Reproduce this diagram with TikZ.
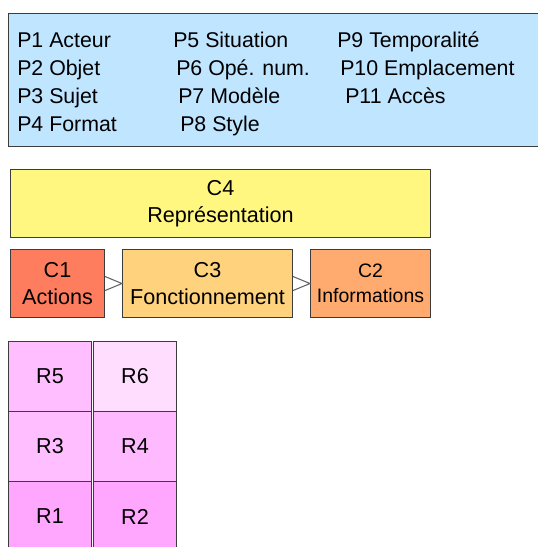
\documentclass[tikz,border=0pt]{standalone}
\usepackage{fontspec}
\setmainfont{Liberation Sans}
\usetikzlibrary{calc}

\definecolor{pblue}{RGB}{191,229,255}
\definecolor{cyellow}{RGB}{255,247,128}
\definecolor{cred}{RGB}{255,125,95}
\definecolor{corange}{RGB}{255,211,125}
\definecolor{capricot}{RGB}{255,170,110}
\definecolor{rpinkA}{RGB}{255,190,255}
\definecolor{rpinkB}{RGB}{255,221,255}
\definecolor{rpinkC}{RGB}{255,186,255}
\definecolor{rpinkD}{RGB}{255,166,255}
\definecolor{edge}{RGB}{60,60,60}

\begin{document}
\begin{tikzpicture}[x=0.75pt, y=-0.75pt,
  box/.style={draw=edge, line width=0.8pt, rectangle, anchor=north west, inner sep=0pt,
    align=center, font=\fontsize{16.2}{20}\selectfont},
  ptext/.style={anchor=base west, inner sep=0pt, font=\fontsize{16}{20}\selectfont},
  cbox/.style={box, minimum height=51pt},
  rbox/.style={box, minimum width=62.25pt, minimum height=52.5pt},
  chev/.style={draw=edge!80, line width=0.8pt}]
\useasboundingbox (0,0) rectangle (538,547);

\node[box, fill=pblue, minimum width=405pt, minimum height=99.75pt] (pbox) at (8,13) {};

\node[ptext] (p1) at (17,47) {P1 Acteur};
\node[ptext] (p2) at (17,75) {P2 Objet};
\node[ptext] (p3) at (17,103) {P3 Sujet};
\node[ptext] (p4) at (17,131) {P4 Format};

\node[ptext] (p5) at (173,47) {P5 Situation};
\node[ptext] (p6) at (176,75) {P6 Opé. num.};
\node[ptext] (p7) at (178,103) {P7 Modèle};
\node[ptext] (p8) at (180,131) {P8 Style};

\node[ptext] (p9) at (337,47) {P9 Temporalité};
\node[ptext] (p10) at (340,75) {P10 Emplacement};
\node[ptext] (p11) at (345,103) {P11 Accès};

\node[cbox, fill=cyellow, minimum width=315pt, text depth=3pt] (c4) at (10,169) {C4\\Représentation};

\node[cbox, fill=cred, minimum width=70.5pt] (c1) at (10,249) {C1\\Actions};
\node[cbox, fill=corange, minimum width=127.5pt] (c3) at (122,249) {C3\\Fonctionnement};
\node[cbox, fill=capricot, minimum width=90pt, font=\fontsize{14.6}{19}\selectfont] (c2) at (310,249) {C2\\Informations};

\path[chev] ($(c1.east)+(0,-7)$) -- (c3.west) -- ($(c1.east)+(0,7)$);
\path[chev] ($(c3.east)+(0,-7)$) -- (c2.west) -- ($(c3.east)+(0,7)$);

\node[rbox, fill=rpinkA] (r5) at (8,341) {R5};
\node[rbox, fill=rpinkB] (r6) at (93,341) {R6};
\node[rbox, fill=rpinkA] (r3) at (8,411) {R3};
\node[rbox, fill=rpinkC] (r4) at (93,411) {R4};
\node[rbox, fill=rpinkD] (r1) at (8,481) {R1};
\node[rbox, fill=rpinkD] (r2) at (93,481) {R2};
\end{tikzpicture}
\end{document}
